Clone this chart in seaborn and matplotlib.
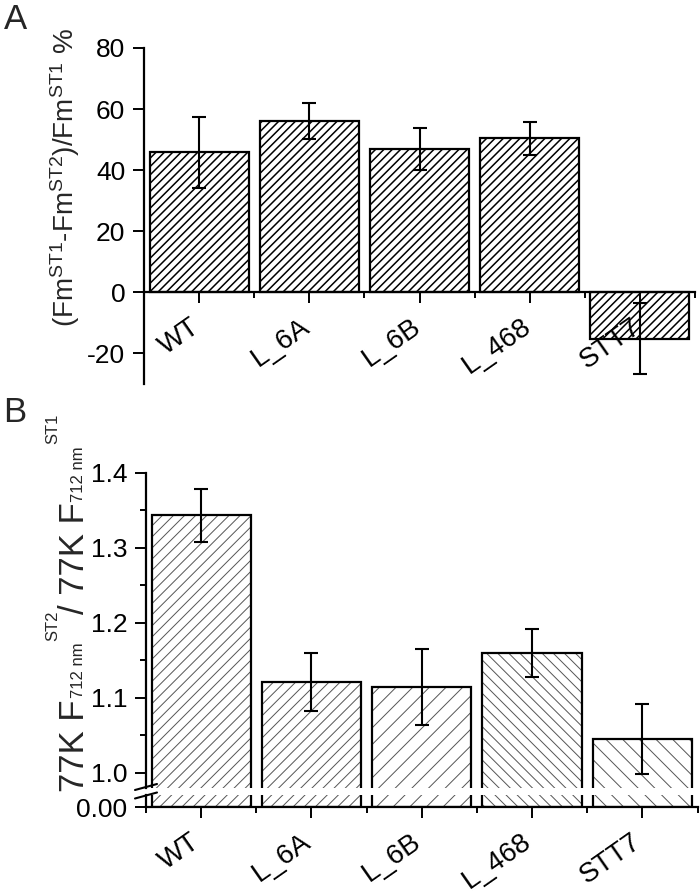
import matplotlib
matplotlib.use("Agg")
import matplotlib.pyplot as plt
import matplotlib.transforms as mtransforms
import seaborn as sns
import pandas as pd
from matplotlib.ticker import MultipleLocator, FixedLocator, FormatStrFormatter
from matplotlib.lines import Line2D

sns.set_theme(style="ticks")
plt.rcParams['font.family'] = ['Liberation Sans', 'DejaVu Sans']
plt.rcParams['mathtext.fontset'] = 'custom'
plt.rcParams['mathtext.rm'] = 'Liberation Sans'
plt.rcParams['mathtext.it'] = 'Liberation Sans'
plt.rcParams['mathtext.default'] = 'regular'
plt.rcParams['axes.unicode_minus'] = False

# ---------------- data ----------------
strains = ["WT", "L_6A", "L_6B", "L_468", "STT7"]
a_values = [45.9, 56.1, 46.9, 50.4, -15.2]
a_errors = [11.6, 6.0, 6.9, 5.5, 11.6]
b_values = [1.343, 1.121, 1.114, 1.159, 1.045]
b_errors = [0.035, 0.039, 0.051, 0.032, 0.047]
b_hatches = ["///", "///", "//", "\\\\\\", "\\\\"]
a_ticks = [-20, 0, 20, 40, 60, 80]
b_ticks = [1.0, 1.1, 1.2, 1.3, 1.4]

df_a = pd.DataFrame({"strain": strains, "value": a_values})
df_b = pd.DataFrame({"strain": strains, "value": b_values})

fig = plt.figure(figsize=(7.0, 8.93), dpi=100)
W, H = 700.0, 893.0

def box(l, t, r, b):
    return [l / W, 1 - b / H, (r - l) / W, (b - t) / H]

TICKFS = 19
XTICKFS = 20
LW = 1.6
ROT = 35

def hatched_bars(ax, df, hatches, hcolor, hlw):
    sns.barplot(data=df, x="strain", y="value", order=strains, color="white",
                edgecolor=hcolor, linewidth=0, width=0.9, errorbar=None,
                saturation=1, ax=ax)
    for p, h in zip(ax.patches, hatches):
        p.set_hatch(h)
        p.set_facecolor("white")
        p.set_edgecolor(hcolor)
        if hasattr(p, "set_hatch_linewidth"):
            p.set_hatch_linewidth(hlw)
    n = len(ax.patches)
    sns.barplot(data=df, x="strain", y="value", order=strains, color="black",
                fill=False, linewidth=LW, width=0.9, errorbar=None, ax=ax)
    for p in ax.patches[n:]:
        p.set_edgecolor("black")
        p.set_facecolor("none")
        p.set_linewidth(LW)

def style_axis(ax):
    ax.set_axisbelow(False)
    for s in ["left", "bottom"]:
        ax.spines[s].set_linewidth(LW)
        ax.spines[s].set_color("black")
    for s in ["top", "right"]:
        ax.spines[s].set_visible(False)
    ax.tick_params(axis="both", which="major", direction="out", length=8,
                   width=1.4, labelsize=TICKFS, colors="black")
    ax.tick_params(axis="y", which="major", pad=5.5)
    ax.tick_params(axis="both", which="minor", direction="out", length=4,
                   width=1.4, colors="black")
    ax.set_xlabel("")
    ax.set_ylabel("")
    ax.set_facecolor("white")

def set_xlabels(ax, dx, dy):
    ax.set_xticks(range(len(strains)))
    ax.set_xticklabels(strains, rotation=ROT, ha="right", rotation_mode="anchor",
                       fontsize=XTICKFS)
    off = mtransforms.ScaledTranslation(dx / 100.0, -dy / 100.0, fig.dpi_scale_trans)
    for lab in ax.get_xticklabels():
        lab.set_transform(lab.get_transform() + off)

# ---------------- Panel A ----------------
axA = fig.add_axes(box(144, 48, 695, 384))
plt.rcParams['hatch.linewidth'] = 1.1
hatched_bars(axA, df_a, ["////"] * 5, "black", 1.1)
axA.errorbar(range(len(strains)), a_values, yerr=a_errors, fmt="none",
             ecolor="black", elinewidth=1.5, capsize=5, capthick=1.5, zorder=5)
axA.set_xlim(-0.5, 4.5)
axA.set_ylim(-30, 80)
axA.set_yticks(a_ticks)
style_axis(axA)
axA.spines["bottom"].set_position(("data", 0))
axA.xaxis.set_minor_locator(FixedLocator([0.5, 1.5, 2.5, 3.5, 4.5]))
set_xlabels(axA, -9, 5)
fig.text(0.093, 1 - 177 / H,
         r"(Fm$^{\mathregular{ST1}}$-Fm$^{\mathregular{ST2}}$)/Fm$^{\mathregular{ST1}}$ %",
         rotation=90, ha="center", va="center", fontsize=20)
fig.text(0.005, 0.997, "A", ha="left", va="top", fontsize=25)

# ---------------- Panel B (broken axis) ----------------
plt.rcParams['hatch.linewidth'] = 0.7
hc = "#555555"
axB = fig.add_axes(box(146, 472.7, 697.5, 788))
hatched_bars(axB, df_b, b_hatches, hc, 0.7)
axB.errorbar(range(len(strains)), b_values, yerr=b_errors, fmt="none",
             ecolor="black", elinewidth=1.5, capsize=5, capthick=1.5, zorder=5)
axB.set_xlim(-0.5, 4.5)
axB.set_ylim(0.9796, 1.4)
axB.set_yticks(b_ticks)
axB.yaxis.set_major_formatter(FormatStrFormatter("%.1f"))
axB.yaxis.set_minor_locator(MultipleLocator(0.05))
style_axis(axB)
axB.spines["bottom"].set_visible(False)
axB.tick_params(axis="x", which="both", bottom=False, labelbottom=False)

axB2 = fig.add_axes(box(146, 795, 697.5, 807.3))
hatched_bars(axB2, df_b, b_hatches, hc, 0.7)
axB2.set_xlim(-0.5, 4.5)
axB2.set_ylim(0, 0.02)
axB2.set_yticks([0.0])
axB2.yaxis.set_major_formatter(FormatStrFormatter("%.2f"))
style_axis(axB2)
axB2.xaxis.set_minor_locator(FixedLocator([-0.5, 0.5, 1.5, 2.5, 3.5, 4.5]))
axB2.tick_params(axis="x", which="major", pad=3)
set_xlabels(axB2, -11, 6)

# break marks on the left spine
for yy in (787.0, 795.5):
    fig.add_artist(Line2D([135 / W, 157 / W], [1 - (yy + 3) / H, 1 - (yy - 3) / H],
                          color="black", lw=1.5))

# y label of panel B, written piece by piece (large base text, small scripts)
renderer = fig.canvas.get_renderer()
MAIN, SCR = 25, 12
label_pieces = [
    # text, size, baseline x (px), gap before (px)
    ("77K F", MAIN, 84, 0),
    ("712 nm", SCR, 83, 1),
    ("ST2", SCR, 57, 2),
    ("/ 77K F", MAIN, 84, -4),
    ("712 nm", SCR, 83, 1),
    ("ST1", SCR, 57, 2),
]
ycur = 792.0
for txt, size, xb, gap in label_pieces:
    ycur -= gap
    t = fig.text(xb / W, 1 - ycur / H, txt, rotation=90, rotation_mode="anchor",
                 ha="left", va="baseline", fontsize=size)
    bb = t.get_window_extent(renderer=renderer)
    ycur -= bb.height

fig.text(0.005, 1 - 396 / H, "B", ha="left", va="top", fontsize=25)

fig.savefig("out.png", dpi=100, facecolor="white")
